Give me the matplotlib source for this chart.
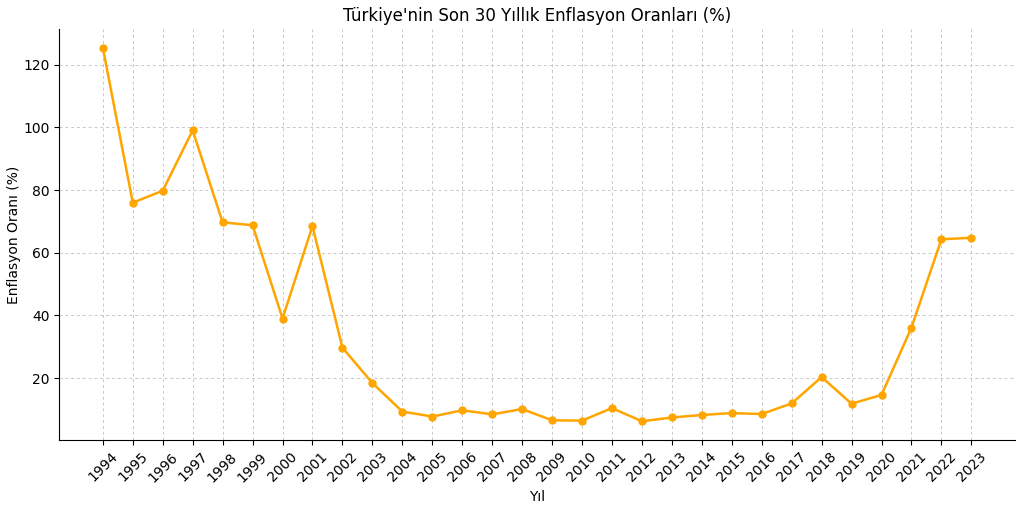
import matplotlib
matplotlib.use('Agg')
import matplotlib.pyplot as plt

years = list(range(1994, 2024))
inflation = [125.5, 76.0, 79.8, 99.1, 69.7, 68.8, 39.0, 68.5, 29.7, 18.4,
             9.3, 7.7, 9.7, 8.4, 10.1, 6.5, 6.4, 10.4, 6.2, 7.4,
             8.2, 8.8, 8.5, 11.9, 20.3, 11.8, 14.6, 36.1, 64.3, 64.8]

fig, ax = plt.subplots(figsize=(10.24, 5.08), dpi=100)
fig.subplots_adjust(left=0.058, right=0.991, top=0.943, bottom=0.134)

ax.plot(years, inflation, marker='o', color='orange', linewidth=1.8, markersize=5)

ax.set_title("Türkiye'nin Son 30 Yıllık Enflasyon Oranları (%)", fontsize=12)
ax.set_xlabel('Yıl', fontsize=10)
ax.set_ylabel('Enflasyon Oranı (%)', fontsize=10, labelpad=2)
ax.set_xticks(years)
ax.set_xticklabels([str(y) for y in years], rotation=45, fontsize=10)
ax.tick_params(axis='y', labelsize=10)
ax.grid(True, linestyle=(0, (3, 3)), color='#c8c8c8', linewidth=0.7)
ax.spines['top'].set_visible(False)
ax.spines['right'].set_visible(False)

plt.savefig('out.png')
